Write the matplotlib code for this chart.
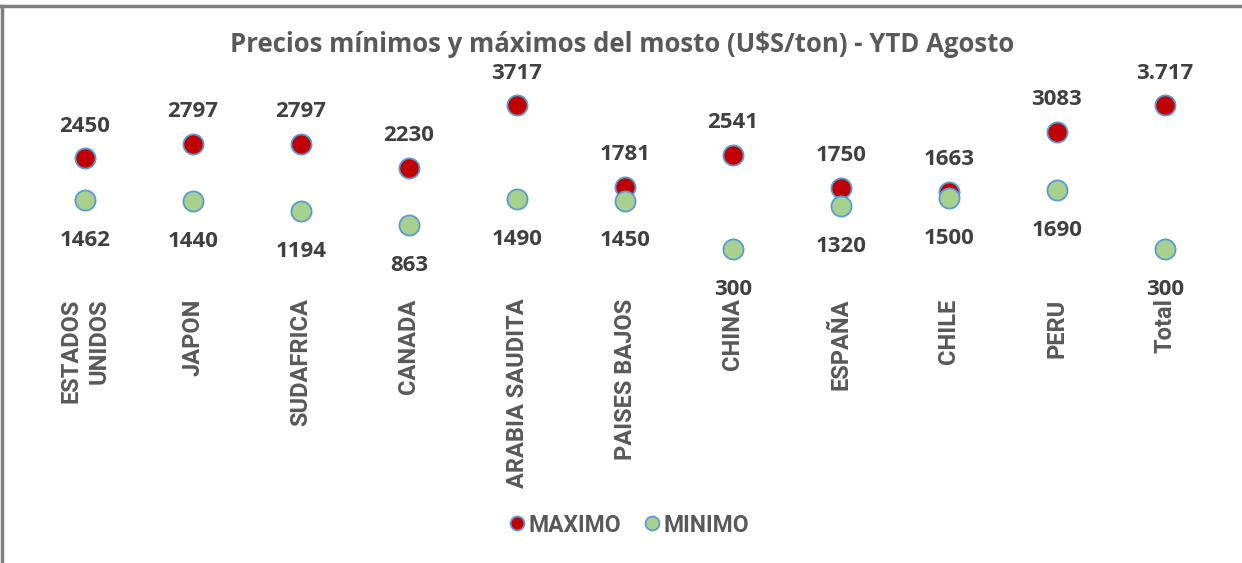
import matplotlib
matplotlib.use("Agg")
import matplotlib.pyplot as plt
from matplotlib.lines import Line2D

# Datos del gráfico
categorias = ["ESTADOS\nUNIDOS", "JAPON", "SUDAFRICA", "CANADA", "ARABIA SAUDITA",
              "PAISES BAJOS", "CHINA", "ESPAÑA", "CHILE", "PERU", "Total"]
maximo = [2450, 2797, 2797, 2230, 3717, 1781, 2541, 1750, 1663, 3083, 3717]
minimo = [1462, 1440, 1194, 863, 1490, 1450, 300, 1320, 1500, 1690, 300]
etiq_max = ["2450", "2797", "2797", "2230", "3717", "1781", "2541", "1750", "1663", "3083", "3.717"]
etiq_min = ["1462", "1440", "1194", "863", "1490", "1450", "300", "1320", "1500", "1690", "300"]

ROJO = "#C00000"
VERDE = "#A9D18E"
BORDE = "#5B9BD5"
GRIS_TXT = "#595959"
GRIS_NUM = "#404040"
FUENTE_CAT = "Roboto"

fig = plt.figure(figsize=(12.42, 5.63), dpi=100)
W, H = 1242, 563

# marco gris (solo arriba e izquierda visibles)
fig.add_artist(Line2D([1.5 / W, 1.5 / W], [0, 1 - 5.5 / H], transform=fig.transFigure,
                      color="#7f7f7f", lw=2.5))
fig.add_artist(Line2D([0, 1], [1 - 5.5 / H, 1 - 5.5 / H], transform=fig.transFigure,
                      color="#7f7f7f", lw=2.5))

ax = fig.add_axes([31 / W, (H - 290) / H, 1188 / W, 230 / H])
x = list(range(len(categorias)))

ax.plot(x, maximo, linestyle="none", marker="o", markersize=14.5,
        markerfacecolor=ROJO, markeredgecolor=BORDE, markeredgewidth=1.3, zorder=3)
ax.plot(x, minimo, linestyle="none", marker="o", markersize=14.5,
        markerfacecolor=VERDE, markeredgecolor=BORDE, markeredgewidth=1.3, zorder=4)

for i in x:
    ax.annotate(etiq_max[i], (i, maximo[i]), xytext=(0, 23), textcoords="offset points",
                ha="center", va="center", fontsize=16, fontweight="bold",
                family="Open Sans", color=GRIS_NUM)
    ax.annotate(etiq_min[i], (i, minimo[i]), xytext=(0, -29), textcoords="offset points",
                ha="center", va="center", fontsize=16, fontweight="bold",
                family="Open Sans", color=GRIS_NUM)

ax.set_xlim(-0.5, len(categorias) - 0.5)
ax.set_ylim(-673, 4785)
ax.set_yticks([])
ax.set_xticks(x)
ax.set_xticklabels(categorias, rotation=90, fontsize=17, fontweight="bold",
                   family=FUENTE_CAT, color=GRIS_TXT, multialignment="right",
                   linespacing=1.25)
ax.tick_params(axis="x", length=0, pad=6)
for s in ax.spines.values():
    s.set_visible(False)

fig.text(622 / W, 1 - 45 / H, "Precios mínimos y máximos del mosto (U$S/ton) - YTD Agosto",
         ha="center", va="center", fontsize=18.5, fontweight="bold",
         family="Open Sans", color=GRIS_TXT)

handles = [
    Line2D([], [], linestyle="none", marker="o", markersize=10, markerfacecolor=ROJO,
           markeredgecolor=BORDE, markeredgewidth=1.3, label="MAXIMO"),
    Line2D([], [], linestyle="none", marker="o", markersize=10, markerfacecolor=VERDE,
           markeredgecolor=BORDE, markeredgewidth=1.3, label="MINIMO"),
]
fig.legend(handles=handles, loc="center", bbox_to_anchor=(629 / W, 1 - 525 / H), ncol=2,
           frameon=False, handlelength=0.7, handletextpad=0.15, columnspacing=1.0,
           prop={"family": FUENTE_CAT, "weight": "bold", "size": 16.5},
           labelcolor=GRIS_TXT)

fig.savefig("out.png", dpi=100, facecolor="white")
